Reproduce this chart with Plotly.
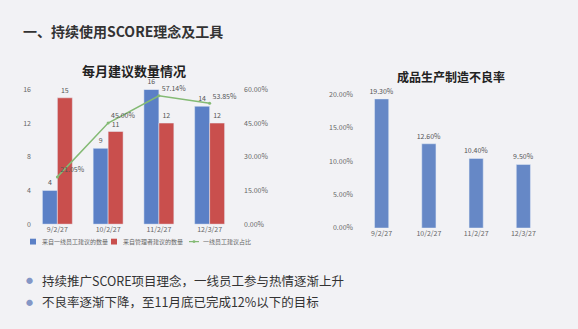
import plotly.graph_objects as go

W, H = 578, 329
FONT = "Noto Sans CJK SC"

months = ["9/2/27", "10/2/27", "11/2/27", "12/3/27"]
frontline = [4, 9, 16, 14]
manager = [15, 11, 12, 12]
ratio = [0.2105, 0.45, 0.5714, 0.5385]
defect = [0.193, 0.126, 0.104, 0.095]

left_ticks = [0, 4, 8, 12, 16]
right_ticks = [0, 0.15, 0.30, 0.45, 0.60]
defect_ticks = [0, 0.05, 0.10, 0.15, 0.20]

legend_labels = ["来自一线员工建议的数量", "来自管理者建议的数量", "一线员工建议占比"]
page_title = "一、持续使用SCORE理念及工具"
left_title = "每月建议数量情况"
right_title = "成品生产制造不良率"
bullets = ["持续推广SCORE项目理念，一线员工参与热情逐渐上升",
           "不良率逐渐下降，至11月底已完成12%以下的目标"]

BLUE = "#5b80c6"
RED = "#c94f4d"
GREEN = "#84ba74"
BLUE2 = "#6688c6"
BG = "#f2f2f5"

def px(x):
    return x / W

def py(y):
    return 1 - y / H

fig = go.Figure()

fig.add_trace(go.Bar(x=months, y=frontline, marker_color=BLUE, name=legend_labels[0],
                     text=[str(v) for v in frontline], textposition="outside",
                     constraintext="none",
                     textfont=dict(size=7, color="#555"), cliponaxis=False,
                     xaxis="x", yaxis="y"))
fig.add_trace(go.Bar(x=months, y=manager, marker_color=RED, name=legend_labels[1],
                     text=[str(v) for v in manager], textposition="outside",
                     constraintext="none",
                     textfont=dict(size=7, color="#555"), cliponaxis=False,
                     xaxis="x", yaxis="y"))
fig.add_trace(go.Scatter(x=months, y=ratio, mode="lines+markers+text", name=legend_labels[2],
                         line=dict(color=GREEN, width=1.5), marker=dict(size=3, color=GREEN),
                         text=[f"{v*100:.2f}%" for v in ratio], textposition="top right",
                         textfont=dict(size=7, color="#555"), cliponaxis=False,
                         xaxis="x", yaxis="y2"))
fig.add_trace(go.Bar(x=months, y=defect, marker_color=BLUE2,
                     text=[f"{v*100:.2f}%" for v in defect], textposition="outside",
                     constraintext="none",
                     textfont=dict(size=7, color="#555"), cliponaxis=False,
                     width=0.3, xaxis="x3", yaxis="y3"))

ax_common = dict(showgrid=False, zeroline=False, showline=False, ticks="",
                 tickfont=dict(size=7, color="#666", family=FONT))

fig.update_layout(
    width=W, height=H, margin=dict(l=0, r=0, t=0, b=0),
    paper_bgcolor=BG, plot_bgcolor=BG,
    font=dict(family=FONT, color="#333"),
    showlegend=False, barmode="group", bargap=0.41, bargroupgap=0,
    xaxis=dict(domain=[px(32), px(235)], anchor="y", **ax_common),
    yaxis=dict(domain=[py(225), py(86)], range=[0, 16], tickvals=left_ticks,
               anchor="x", **ax_common),
    yaxis2=dict(overlaying="y", side="right", anchor="x", range=[0, 0.6],
                tickvals=right_ticks, tickformat=".2%", ticklabelstandoff=8, **ax_common),
    xaxis3=dict(domain=[px(358), px(547)], anchor="y3", **ax_common),
    yaxis3=dict(domain=[py(229), py(91)], range=[0, 0.2], tickvals=defect_ticks,
                tickformat=".2%", anchor="x3", ticklabelstandoff=4, **ax_common),
)

ann = []
ann.append(dict(text=f"<b>{page_title}</b>", x=px(21), y=py(26), xref="paper", yref="paper",
                xanchor="left", yanchor="middle", showarrow=False,
                font=dict(size=14, color="#333", family=FONT)))
ann.append(dict(text=f"<b>{left_title}</b>", x=px(134), y=py(67), xref="paper", yref="paper",
                xanchor="center", yanchor="middle", showarrow=False,
                font=dict(size=13, color="#222", family=FONT)))
ann.append(dict(text=f"<b>{right_title}</b>", x=px(451), y=py(73), xref="paper", yref="paper",
                xanchor="center", yanchor="middle", showarrow=False,
                font=dict(size=12, color="#222", family=FONT)))
for i, b in enumerate(bullets):
    yy = 283 + i * 22
    ann.append(dict(text=b, x=px(40), y=py(yy), xref="paper", yref="paper",
                    xanchor="left", yanchor="middle", showarrow=False,
                    font=dict(size=12.5, color="#333", family=FONT)))
    ann.append(dict(text="●", x=px(29), y=py(yy), xref="paper", yref="paper",
                    xanchor="center", yanchor="middle", showarrow=False,
                    font=dict(size=7, color="#8497c6", family=FONT)))

# manual legend
leg_x = [33, 114, 194]
leg_cols = [BLUE, RED, GREEN]
shapes = []
for i, (lx, lab, c) in enumerate(zip(leg_x, legend_labels, leg_cols)):
    if i < 2:
        shapes.append(dict(type="rect", xref="paper", yref="paper",
                           x0=px(lx - 3), x1=px(lx + 3), y0=py(246), y1=py(240),
                           fillcolor=c, line=dict(width=0)))
    else:
        shapes.append(dict(type="line", xref="paper", yref="paper",
                           x0=px(lx - 5), x1=px(lx + 5), y0=py(243), y1=py(243),
                           line=dict(color=c, width=1.2)))
        shapes.append(dict(type="circle", xref="paper", yref="paper",
                           x0=px(lx - 1.5), x1=px(lx + 1.5), y0=py(244.5), y1=py(241.5),
                           fillcolor=c, line=dict(width=0)))
    ann.append(dict(text=lab, x=px(lx + 7), y=py(243), xref="paper", yref="paper",
                    xanchor="left", yanchor="middle", showarrow=False,
                    font=dict(size=6, color="#666", family=FONT)))

fig.update_layout(annotations=ann, shapes=shapes)
fig.write_html("out.html")
